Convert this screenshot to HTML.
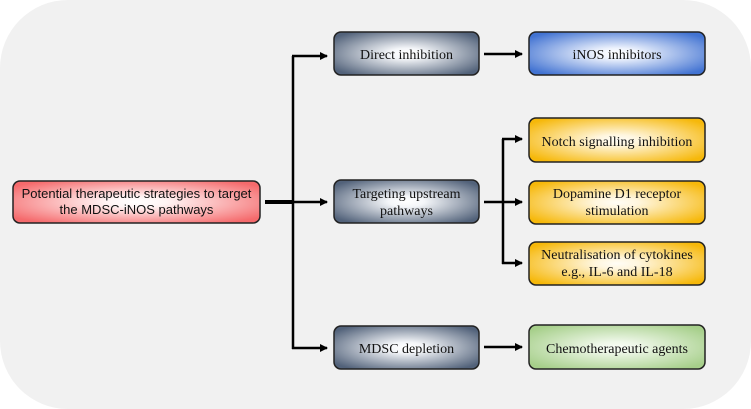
<!DOCTYPE html>
<html><head><meta charset="utf-8"><style>
html,body{margin:0;padding:0;background:#fff;}
svg{display:block;}
</style></head><body>
<svg width="751" height="409" viewBox="0 0 751 409" xmlns="http://www.w3.org/2000/svg">
<defs>
<radialGradient id="gr" cx="50%" cy="50%" r="62%"><stop offset="0" stop-color="#ffffff"/><stop offset="0.2" stop-color="#f4f6f9"/><stop offset="1" stop-color="#52627a"/></radialGradient>
<radialGradient id="rd" cx="50%" cy="50%" r="62%"><stop offset="0" stop-color="#ffffff"/><stop offset="0.2" stop-color="#fff4f4"/><stop offset="1" stop-color="#f56a6c"/></radialGradient>
<radialGradient id="bl" cx="50%" cy="50%" r="62%"><stop offset="0" stop-color="#ffffff"/><stop offset="0.2" stop-color="#eef3fd"/><stop offset="1" stop-color="#4273d2"/></radialGradient>
<radialGradient id="yl" cx="50%" cy="50%" r="62%"><stop offset="0" stop-color="#fffdf6"/><stop offset="0.2" stop-color="#fff6de"/><stop offset="1" stop-color="#f6b80a"/></radialGradient>
<radialGradient id="gn" cx="50%" cy="50%" r="62%"><stop offset="0" stop-color="#f8fcf5"/><stop offset="0.2" stop-color="#eef7e8"/><stop offset="1" stop-color="#a6cf8a"/></radialGradient>
<marker id="ah" markerWidth="8" markerHeight="8" refX="7" refY="4" orient="auto" markerUnits="userSpaceOnUse"><path d="M0,0 L8,4 L0,8 z" fill="#000"/></marker>
</defs>
<rect x="0" y="0" width="751" height="409" rx="68" ry="68" fill="#f1f1f1"/>
<g stroke="#000" stroke-width="2.5" fill="none">
<line x1="265" y1="202" x2="293" y2="202" stroke-width="4"/>
<line x1="293" y1="56" x2="293" y2="349"/>
<line x1="292" y1="56" x2="327" y2="56" marker-end="url(#ah)"/>
<line x1="293" y1="202" x2="327" y2="202" marker-end="url(#ah)"/>
<line x1="292" y1="348" x2="327" y2="348" marker-end="url(#ah)"/>
<line x1="484" y1="54" x2="522" y2="54" marker-end="url(#ah)"/>
<line x1="484" y1="202" x2="522" y2="202" marker-end="url(#ah)"/>
<line x1="484" y1="347" x2="522" y2="347" marker-end="url(#ah)"/>
<line x1="503" y1="139" x2="503" y2="264"/>
<line x1="502" y1="139" x2="522" y2="139" marker-end="url(#ah)"/>
<line x1="502" y1="263" x2="522" y2="263" marker-end="url(#ah)"/>
</g>
<g stroke="#222" stroke-width="1.5">
<rect x="13" y="181" width="247" height="42" rx="7" fill="url(#rd)"/>
<rect x="334" y="32" width="145" height="43" rx="7" fill="url(#gr)"/>
<rect x="334" y="180" width="145" height="43" rx="7" fill="url(#gr)"/>
<rect x="334" y="326" width="145" height="43" rx="7" fill="url(#gr)"/>
<rect x="529" y="32" width="176" height="43" rx="7" fill="url(#bl)"/>
<rect x="529" y="118" width="176" height="44" rx="7" fill="url(#yl)"/>
<rect x="529" y="181" width="176" height="43" rx="7" fill="url(#yl)"/>
<rect x="529" y="242" width="176" height="43" rx="7" fill="url(#yl)"/>
<rect x="529" y="325" width="176" height="44" rx="7" fill="url(#gn)"/>
</g>
<g font-family="'Liberation Serif', serif" font-size="14" fill="#111" text-anchor="middle">
<text x="406.5" y="59">Direct inhibition</text>
<text x="406.5" y="198">Targeting upstream</text>
<text x="406.5" y="215">pathways</text>
<text x="406.5" y="353">MDSC depletion</text>
<text x="617" y="59">iNOS inhibitors</text>
<text x="617" y="146">Notch signalling inhibition</text>
<text x="617" y="198">Dopamine D1 receptor</text>
<text x="617" y="215">stimulation</text>
<text x="617" y="259">Neutralisation of cytokines</text>
<text x="617" y="276">e.g., IL-6 and IL-18</text>
<text x="617" y="353">Chemotherapeutic agents</text>
</g>
<g font-family="'Liberation Sans', sans-serif" font-size="13" fill="#111" text-anchor="middle">
<text x="136.5" y="198">Potential therapeutic strategies to target</text>
<text x="136.5" y="214">the MDSC-iNOS pathways</text>
</g>
</svg>
</body></html>
